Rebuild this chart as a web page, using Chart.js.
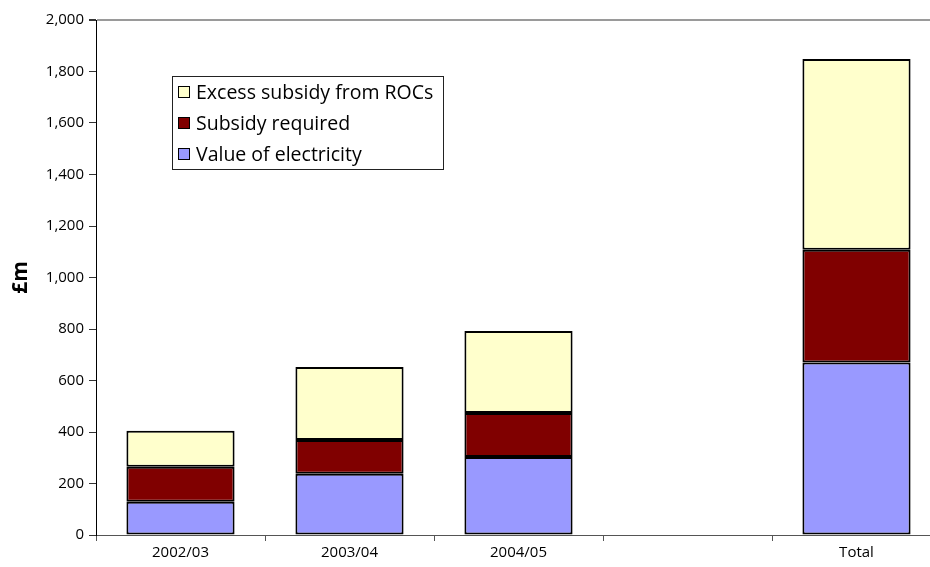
<!DOCTYPE html>
<html>
<head>
<meta charset="utf-8">
<script src="https://cdn.jsdelivr.net/npm/chart.js@4/dist/chart.umd.min.js"></script>
<style>
  html, body { margin: 0; padding: 0; background: #fff; }
  #wrap { width: 930px; height: 567px; overflow: hidden; position: relative; }
  canvas { display: block; }
</style>
</head>
<body>
<div id="wrap"><canvas id="c" width="945" height="567"></canvas></div>
<script>
const categories = ["2002/03", "2003/04", "2004/05", "", "Total"];
const valueOfElectricity = [129, 238, 303, null, 670];
const subsidyRequired = [136, 131, 171, null, 438];
const excessSubsidy = [140, 283, 318, null, 741];
const yTicks = [0, 200, 400, 600, 800, 1000, 1200, 1400, 1600, 1800, 2000];

const FONT = "'Open Sans', 'DejaVu Sans', sans-serif";

const boxLegend = {
  id: 'boxLegend',
  afterDraw(chart) {
    const ctx = chart.ctx;
    const x0 = 172, y0 = 76, w = 271, h = 93;
    ctx.save();
    ctx.fillStyle = '#fff';
    ctx.fillRect(x0, y0, w, h);
    ctx.strokeStyle = '#222';
    ctx.lineWidth = 1;
    ctx.strokeRect(x0 + 0.5, y0 + 0.5, w, h);
    const order = [2, 1, 0];
    const rows = [92, 123, 154];
    ctx.font = "19.5px " + FONT;
    ctx.textBaseline = 'middle';
    order.forEach((di, i) => {
      const ds = chart.data.datasets[di];
      const cy = rows[i];
      ctx.fillStyle = ds.backgroundColor;
      ctx.fillRect(178, cy - 6, 12, 12);
      ctx.strokeStyle = '#000';
      ctx.lineWidth = 1;
      ctx.strokeRect(178.5, cy - 5.5, 11, 11);
      ctx.fillStyle = '#000';
      ctx.fillText(ds.label, 196, cy + 1);
    });
    ctx.restore();
  }
};

new Chart(document.getElementById('c'), {
  type: 'bar',
  data: {
    labels: categories,
    datasets: [
      { label: 'Value of electricity', data: valueOfElectricity, backgroundColor: '#9999ff', borderColor: '#000', borderWidth: 2, borderSkipped: false },
      { label: 'Subsidy required', data: subsidyRequired, backgroundColor: '#800000', borderColor: '#000', borderWidth: 2, borderSkipped: false },
      { label: 'Excess subsidy from ROCs', data: excessSubsidy, backgroundColor: '#ffffcc', borderColor: '#000', borderWidth: 2, borderSkipped: false }
    ]
  },
  options: {
    responsive: false,
    animation: false,
    devicePixelRatio: 1,
    layout: { padding: { top: 20, left: 0, right: 4, bottom: 0 } },
    datasets: { bar: { categoryPercentage: 1.0, barPercentage: 0.64 } },
    plugins: {
      legend: { display: false },
      tooltip: { enabled: false },
      title: { display: false }
    },
    scales: {
      x: {
        stacked: true,
        offset: true,
        afterFit(s) { s.height = 32; },
        grid: { drawOnChartArea: false, offset: true, color: '#555', tickLength: 6 },
        border: { color: '#555', width: 1 },
        ticks: { color: '#000', font: { family: FONT, size: 15 }, padding: 3, maxRotation: 0, autoSkip: false }
      },
      y: {
        stacked: true,
        min: 0,
        max: 2000,
        afterFit(s) { s.width = 96; },
        afterBuildTicks(s) { s.ticks = yTicks.map(v => ({ value: v })); },
        grid: {
          color: (c) => (c.tick && c.tick.value === 2000) ? '#9a9a9a' : 'rgba(0,0,0,0)',
          lineWidth: (c) => (c.tick && c.tick.value === 2000) ? 2 : 1,
          tickColor: '#333',
          tickLength: 7
        },
        border: { color: '#000', width: 1 },
        title: { display: true, text: '£m', color: '#000', font: { family: FONT, size: 21, weight: 'bold' }, padding: { top: 8, bottom: 0 } },
        ticks: {
          color: '#000',
          font: { family: FONT, size: 15 },
          padding: 5,
          callback: (v) => v.toLocaleString('en-US')
        }
      }
    }
  },
  plugins: [boxLegend]
});
</script>
</body>
</html>
